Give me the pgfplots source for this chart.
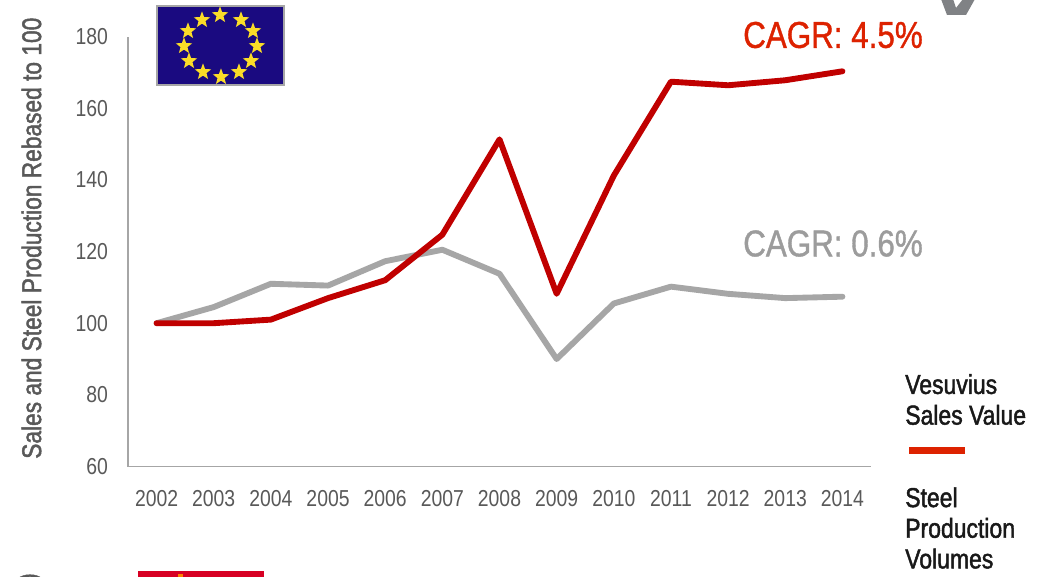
\documentclass[border=0pt]{standalone}
\usepackage{pgfplots}
\pgfplotsset{compat=1.18}
\usepackage{fontspec}
\setmainfont[FakeStretch=0.84]{Liberation Sans}
\newfontfamily\semi[FakeStretch=0.84,FakeBold=1.6]{Liberation Sans}
\newfontfamily\lightbold[FakeStretch=0.84,FakeBold=1.0]{Liberation Sans}
\usetikzlibrary{shapes.geometric}
\definecolor{lred}{HTML}{C00000}
\definecolor{tred}{HTML}{DD2200}
\definecolor{lgray}{HTML}{A6A6A6}
\definecolor{cgray}{HTML}{9C9C9C}
\definecolor{tgray}{HTML}{595959}
\definecolor{eublue}{HTML}{1A0A80}
\definecolor{euyellow}{HTML}{FADC28}
\definecolor{cnred}{HTML}{D70023}
\definecolor{logogray}{HTML}{808285}
\pgfplotstableread{
year sales steel
0 100 100
1 100 104.5
2 101 111
3 107 110.5
4 112 117.3
5 124.7 120.5
6 151.3 113.8
7 108.2 90
8 141.2 105.5
9 167.4 110.2
10 166.4 108.2
11 167.8 107
12 170.3 107.4
}\datatable
\begin{document}
\begin{tikzpicture}
\path[use as bounding box,clip] (0,0) rectangle (779.25pt,432pt);
\fill[white] (0,0) rectangle (779.25pt,432pt);
\begin{axis}[
  at={(96pt,82.1pt)},anchor=south west,
  width=557.25pt,height=322.5pt,scale only axis,
  xmin=-0.5,xmax=12.5,ymin=60,ymax=180,
  clip=false,
  xtick=data,xticklabels={2002,2003,2004,2005,2006,2007,2008,2009,2010,2011,2012,2013,2014},
  ytick={60,80,...,180},
  axis x line*=bottom,axis y line*=left,
  axis line style={draw=lgray,line width=0.9pt,-},
  major tick length=0pt,
  /pgf/number format/assume math mode=true,
  /pgf/number format/1000 sep={},
  ticklabel style={text=tgray,font=\fontsize{17.3pt}{19pt}\selectfont},
  xticklabel style={yshift=-14.5pt},
  yticklabel style={xshift=-11.5pt},
  ylabel={Sales and Steel Production Rebased to 100},
  ylabel style={text=tgray,font=\semi\fontsize{20.3pt}{22pt}\selectfont,at={(rel axis cs:-0.13,0.531)},anchor=center,rotate=0},
]
\addplot[lgray,line width=4.4pt,line join=round,line cap=round] table[x=year,y=steel] {\datatable};
\addplot[lred,line width=4.4pt,line join=round,line cap=round] table[x=year,y=sales] {\datatable};
\end{axis}
\begin{scope}[x=0.75pt,y=-0.75pt,yshift=432pt]
% EU flag
\fill[fill=eublue,draw=lgray,line width=1.2pt] (157,6) rectangle (284,85);
\foreach \a/\b in {220/15,241/20,253/31,257/46,251/61,239/72,221/77,203/72,189/61,184/46,188/31,202/20}{
  \node[star,star points=5,star point ratio=2.4,fill=euyellow,inner sep=0pt,minimum size=13pt] at (\a,\b) {};
}
% logo fragment
\fill[logogray] (941,-1) -- (947,15) -- (966,15) -- (975,-1) -- (963,-1) -- (956,8) -- (953,-1) -- cycle;
% bottom flag fragment
\fill[cnred] (138,571) rectangle (264,580);
\fill[orange] (178,574) rectangle (183,580);
\node[rotate=90,inner sep=0pt,text=tgray,font=\semi\fontsize{20.3pt}{22pt}\selectfont,anchor=east] at (30,573) {)};
\node[text=tred,font=\lightbold\fontsize{28pt}{30pt}\selectfont,anchor=center] at (833,35) {CAGR: 4.5\%};
\node[text=cgray,font=\lightbold\fontsize{28pt}{30pt}\selectfont,anchor=center] at (833,243.5) {CAGR: 0.6\%};
\node[inner sep=0pt,font=\semi\fontsize{20.5pt}{23pt}\selectfont,anchor=west,align=left,text=black!90] at (905,399.5) {Vesuvius\\Sales Value};
\node[inner sep=0pt,font=\semi\fontsize{20.5pt}{23pt}\selectfont,anchor=north west,align=left,text=black!90] at (905,487) {Steel\\Production\\Volumes};
\fill[tred] (909,447) rectangle (965,454);
\end{scope}
\end{tikzpicture}
\end{document}
